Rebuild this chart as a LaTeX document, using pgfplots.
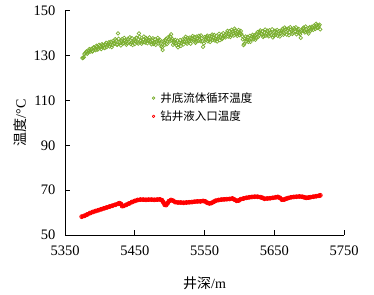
\documentclass[border=0pt]{standalone}
\usepackage{pgfplots}
\pgfplotsset{compat=1.18}
\usepackage{fontspec}
\setmainfont{Liberation Serif}
\newfontfamily\tnr{Liberation Serif}
\newfontfamily\cjk{Noto Sans CJK SC}
\definecolor{gr}{HTML}{7AAE2E}
\definecolor{rd}{HTML}{FF0000}
\begin{document}
\begin{tikzpicture}
\useasboundingbox (-65pt,-59pt) rectangle (309pt,235pt);
\begin{axis}[
  at={(0pt,0pt)}, anchor=south west,
  scale only axis, width=279pt, height=224pt,
  xmin=5350, xmax=5750, ymin=50, ymax=150,
  xtick={5350,5450,5550,5650,5750},
  ytick={50,70,90,110,130,150},
  axis x line=bottom, axis y line=left,
  axis line style={-, line width=1pt, black},
  tick align=inside, major tick length=5pt,
  tick style={black, line width=1pt},
  /pgf/number format/assume math mode=true,
  /pgf/number format/1000 sep={},
  tick label style={font=\tnr\fontsize{14.5}{16}\selectfont},
  xticklabel style={yshift=-7pt},
  yticklabel style={xshift=-6pt},
  xlabel={{\cjk 井深}{\tnr /m}},
  ylabel={{\cjk 温度}{\tnr /°C}},
  xlabel style={yshift=-15pt},
  label style={font=\fontsize{14}{16}\selectfont},
  legend style={draw=none, fill=none, at={(0.3,0.655)}, anchor=north west,
    font=\cjk\fontsize{11.5}{13}\selectfont, row sep=3pt},
  legend cell align=left,
  clip=false,
]
\addplot[only marks, mark=o, mark size=1.8pt, gr, line width=0.7pt,
  legend image code/.code={\draw[gr, line width=0.7pt, fill=none] (0.15cm,0cm) circle (1.3pt); \path[draw=none, fill=none] (0.15cm,0cm) -- (0.32cm,0cm);}] coordinates {
(5376,129.1)(5377,129.4)(5378,130.8)(5380,131.6)(5382,130.9)(5384,132.3)(5386,131.8)(5388,133.1)(5390,132.2)
(5392,133.6)(5394,132.5)(5396,134.0)(5398,133.2)(5400,134.3)(5402,133.0)(5404,134.8)(5406,133.6)(5408,135.1)
(5410,133.9)(5412,135.4)(5414,134.2)(5416,136.3)(5418,134.8)(5420,135.7)(5422,137.4)(5424,135.1)(5426,140.0)
(5428,136.2)(5430,134.6)(5432,137.5)(5434,135.8)(5436,136.9)(5438,134.9)(5440,137.6)(5442,136.1)(5444,135.3)
(5446,137.9)(5448,136.4)(5450,135.2)(5452,138.1)(5454,136.0)(5456,140.0)(5458,136.7)(5460,135.4)(5462,137.3)
(5464,136.2)(5466,138.0)(5468,135.6)(5470,137.2)(5472,136.5)(5474,135.1)(5476,137.8)(5478,136.0)(5480,134.9)
(5482,136.8)(5484,135.5)(5486,137.1)(5488,134.3)(5490,132.6)(5492,135.9)(5494,137.0)(5496,135.2)(5498,138.3)
(5500,136.4)(5502,139.6)(5504,137.5)(5506,135.8)(5508,137.1)(5510,134.6)(5512,133.8)(5514,135.9)(5516,134.4)
(5518,136.3)(5520,135.1)(5522,137.6)(5524,136.0)(5526,138.0)(5528,136.6)(5530,135.4)(5532,137.9)(5534,136.8)
(5536,138.4)(5538,136.3)(5540,137.7)(5542,138.9)(5544,136.5)(5546,137.8)(5548,134.0)(5550,138.3)(5552,136.9)
(5554,139.0)(5556,137.4)(5558,136.2)(5560,138.5)(5562,137.1)(5564,139.3)(5566,137.6)(5568,136.4)(5570,138.2)
(5572,137.0)(5574,139.4)(5576,137.9)(5578,139.0)(5580,138.2)(5582,140.2)(5584,138.6)(5586,141.0)(5588,139.3)
(5590,140.8)(5592,139.0)(5594,141.3)(5596,139.7)(5598,140.6)(5600,139.2)(5602,141.1)(5604,138.8)(5606,134.8)
(5608,137.6)(5610,136.5)(5612,138.4)(5614,137.0)(5616,136.2)(5618,138.6)(5620,137.4)(5622,139.2)(5624,138.0)
(5626,140.5)(5628,139.1)(5630,141.3)(5632,139.6)(5634,138.4)(5636,140.4)(5638,139.0)(5640,141.2)(5642,138.7)
(5644,140.1)(5646,139.3)(5648,138.2)(5650,140.6)(5652,139.4)(5654,141.5)(5656,139.8)(5658,138.6)(5660,140.9)
(5662,142.0)(5664,140.1)(5666,141.8)(5668,139.5)(5670,142.2)(5672,140.6)(5674,141.7)(5676,139.8)(5678,142.4)
(5680,140.9)(5682,139.6)(5684,141.5)(5686,140.2)(5688,138.0)(5690,141.3)(5692,142.6)(5694,140.4)(5696,141.9)
(5698,140.7)(5700,142.3)(5702,141.2)(5704,143.0)(5706,141.6)(5708,142.8)(5710,144.3)(5712,142.5)(5714,143.4)
(5716,141.8)
(5375,129.0)(5379,131.2)(5381,132.0)(5383,131.4)(5385,133.0)(5387,132.6)(5389,131.9)(5391,133.8)(5393,133.1)
(5395,134.5)(5397,132.8)(5399,134.9)(5401,133.7)(5403,135.2)(5405,134.5)(5407,133.4)(5409,135.8)(5411,134.7)
(5413,136.1)(5415,135.0)(5417,133.9)(5419,136.6)(5421,135.3)(5423,136.8)(5425,134.9)(5427,137.6)(5429,135.7)
(5431,136.8)(5433,135.4)(5435,138.0)(5437,136.2)(5439,135.5)(5441,137.3)(5443,138.3)(5445,136.0)(5447,134.8)
(5449,137.0)(5451,136.6)(5453,137.9)(5455,135.5)(5457,138.5)(5459,137.0)(5461,136.1)(5463,138.6)(5465,135.9)
(5467,137.5)(5469,136.7)(5471,138.2)(5473,136.0)(5475,136.9)(5477,135.3)(5479,137.4)(5481,136.2)(5483,138.0)
(5485,136.6)(5487,135.4)(5489,133.8)(5491,136.5)(5493,134.9)(5495,137.6)(5497,136.3)(5499,137.5)(5501,138.6)
(5503,136.9)(5505,134.9)(5507,136.4)(5509,135.6)(5511,136.8)(5513,134.9)(5515,137.0)(5517,135.7)(5519,137.4)
(5521,136.2)(5523,138.5)(5525,135.4)(5527,137.2)(5529,138.1)(5531,136.7)(5533,138.8)(5535,137.3)(5537,135.8)
(5539,138.6)(5541,136.7)(5543,137.4)(5545,139.1)(5547,136.4)(5549,135.5)(5551,137.6)(5553,138.4)(5555,136.5)
(5557,138.7)(5559,137.5)(5561,139.5)(5563,138.0)(5565,136.8)(5567,138.9)(5569,137.6)(5571,139.8)(5573,138.3)
(5575,137.4)(5577,140.1)(5579,138.7)(5581,139.5)(5583,141.1)(5585,139.7)(5587,138.4)(5589,141.6)(5591,139.9)
(5593,142.1)(5595,140.3)(5597,138.9)(5599,141.5)(5601,140.2)(5603,139.7)(5605,137.3)(5607,135.3)(5609,138.6)
(5611,137.3)(5613,136.2)(5615,138.9)(5617,137.5)(5619,139.4)(5621,138.4)(5623,137.2)(5625,139.7)(5627,138.5)
(5629,140.6)(5631,139.9)(5633,140.9)(5635,138.9)(5637,141.7)(5639,140.1)(5641,139.3)(5643,141.4)(5645,140.4)
(5647,141.8)(5649,139.0)(5651,141.2)(5653,140.0)(5655,138.9)(5657,141.0)(5659,140.2)(5661,141.4)(5663,139.4)
(5665,142.6)(5667,140.7)(5669,141.5)(5671,139.2)(5673,142.8)(5675,141.0)(5677,140.3)(5679,141.9)(5681,142.7)
(5683,140.5)(5685,142.0)(5687,139.6)(5689,140.9)(5691,142.2)(5693,141.0)(5695,143.1)(5697,141.4)(5699,139.9)
(5701,142.8)(5703,141.7)(5705,142.6)(5707,143.5)(5709,142.0)(5711,143.6)(5713,142.9)(5715,143.9)
};
\addlegendentry{井底流体循环温度}
\addplot[rd, line width=3.6pt, mark=o, mark size=2pt, mark options={line width=0.8pt}, line join=round, line cap=round,
  legend image code/.code={\draw[rd, line width=0.7pt, fill=none] (0.15cm,0cm) circle (1.3pt); \path[draw=none, fill=none] (0.15cm,0cm) -- (0.32cm,0cm);}] coordinates {
(5374,58.2)(5378,58.6)(5382,59.2)(5386,59.8)(5390,60.3)(5394,60.7)(5398,61.1)(5402,61.5)(5406,61.9)(5410,62.3)
(5414,62.7)(5418,63.1)(5422,63.5)(5426,63.9)(5428,64.2)(5430,63.9)(5432,62.9)(5434,63.0)(5438,63.5)(5442,64.1)
(5446,64.7)(5450,65.2)(5454,65.6)(5458,65.8)(5462,65.8)(5466,65.7)(5470,65.8)(5474,65.8)(5478,65.7)(5482,65.8)
(5486,65.9)(5489,65.5)(5491,64.6)(5493,63.5)(5495,63.4)(5497,64.2)(5499,65.1)(5502,65.6)(5505,65.3)(5508,64.7)
(5512,64.5)(5516,64.5)(5520,64.4)(5524,64.5)(5528,64.6)(5532,64.7)(5536,64.9)(5540,65.0)(5544,65.0)(5548,65.2)
(5551,65.0)(5554,64.4)(5557,64.1)(5560,64.3)(5563,64.8)(5566,65.3)(5570,65.6)(5574,65.8)(5578,65.9)(5582,66.0)
(5586,66.1)(5590,66.3)(5593,65.8)(5596,65.3)(5599,65.4)(5602,66.0)(5606,66.3)(5610,66.6)(5614,66.8)(5618,67.0)
(5622,67.1)(5626,67.1)(5630,66.9)(5633,66.6)(5636,66.2)(5640,66.3)(5644,66.4)(5648,66.6)(5652,66.8)(5655,67.0)
(5658,66.6)(5661,65.8)(5664,65.8)(5667,66.2)(5670,66.5)(5674,66.8)(5678,67.0)(5682,67.1)(5686,67.2)(5690,67.1)
(5693,66.8)(5696,66.6)(5699,66.7)(5702,66.9)(5706,67.1)(5710,67.3)(5714,67.5)(5716,67.7)
};
\addlegendentry{钻井液入口温度}
\end{axis}
\end{tikzpicture}
\end{document}
